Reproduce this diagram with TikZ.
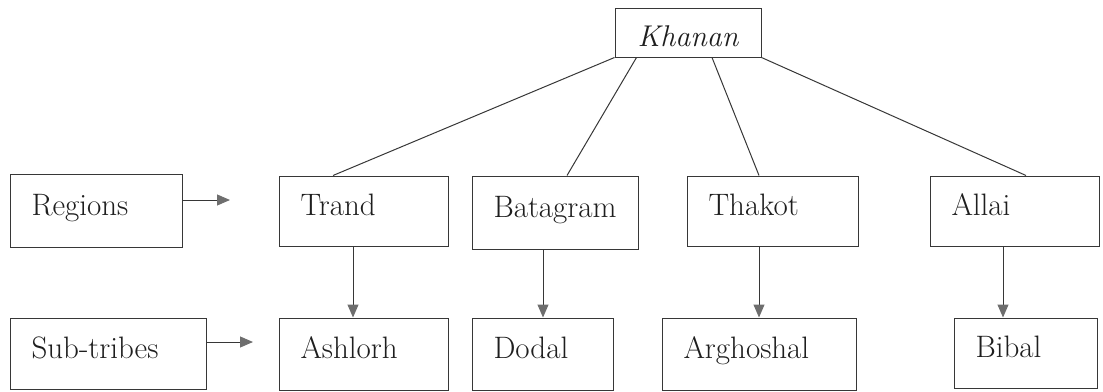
\documentclass[tikz,border=0pt]{standalone}
\usetikzlibrary{arrows.meta}
\definecolor{ink}{RGB}{55,55,55}
\definecolor{tipgray}{RGB}{110,110,110}
\definecolor{txt}{RGB}{30,30,30}
\begin{document}
\begin{tikzpicture}[x=1pt,y=-1pt,
  box/.style={draw=ink, line width=1pt, rectangle, inner xsep=21.5pt, inner ysep=0pt,
    align=left, text=txt, text height=9pt, text depth=0pt,
    font=\fontsize{31}{37}\selectfont},
  conn/.style={draw=ink, line width=1pt},
  arr/.style={draw=ink, line width=1pt, -{Triangle[length=13pt,width=11pt,color=tipgray]}}]
\useasboundingbox (0,0) rectangle (1103,391);
% top node
\node[draw=ink, line width=1pt, rectangle, minimum width=146pt, minimum height=49pt,
  inner sep=0pt, text height=27pt, text depth=0pt, text=txt,
  font=\itshape\fontsize{30}{36}\selectfont] (khanan) at (688,32.5) {Khanan};
% labels
\node[box, minimum height=73pt, text width=129pt] (regions) at (96,210.5) {Regions};
\node[box, minimum height=71pt, text width=153pt] (subtribes) at (108,353.5) {Sub-tribes};
% regions
\node[box, minimum height=70pt, text width=126pt] (trand) at (363.5,211) {Trand};
\node[box, minimum height=73pt, text width=123pt] (batagram) at (555,212.5) {Batagram};
\node[box, minimum height=70pt, text width=128pt] (thakot) at (772.5,211) {Thakot};
\node[box, minimum height=70pt, text width=126pt] (allai) at (1014.5,211) {Allai};
% sub-tribes
\node[box, minimum height=72pt, text width=126pt] (ashlorh) at (363.5,354) {Ashlorh};
\node[box, minimum height=72pt, text width=98pt] (dodal) at (542.5,354) {Dodal};
\node[box, minimum height=72pt, text width=151pt] (arghoshal) at (759,354) {Arghoshal};
\node[box, minimum height=70pt, text width=100pt] (bibal) at (1025.5,353) {Bibal};
% tree lines
\draw[conn] (khanan.south west) -- ([xshift=-30.5pt]trand.north);
\draw[conn] ([xshift=22pt]khanan.south west) -- ([xshift=12pt]batagram.north);
\draw[conn] ([xshift=24pt]khanan.south) -- ([xshift=-13.5pt]thakot.north);
\draw[conn] (khanan.south east) -- ([xshift=11.5pt]allai.north);
% vertical arrows
\draw[arr] ([xshift=-10.5pt]trand.south) -- ([xshift=-10.5pt]trand.south |- ashlorh.north);
\draw[arr] ([xshift=-12pt]batagram.south) -- ([xshift=-12pt]batagram.south |- dodal.north);
\draw[arr] ([xshift=-13.5pt]thakot.south) -- ([xshift=-13.5pt]thakot.south |- arghoshal.north);
\draw[arr] ([xshift=-11.5pt]allai.south) -- ([xshift=-11.5pt]allai.south |- bibal.north);
% horizontal arrows
\coordinate (rend) at (230,200);
\coordinate (send) at (253,342);
\draw[arr] ([yshift=10.5pt]regions.east) -- (rend);
\draw[arr] ([yshift=11.5pt]subtribes.east) -- (send);
\end{tikzpicture}
\end{document}
